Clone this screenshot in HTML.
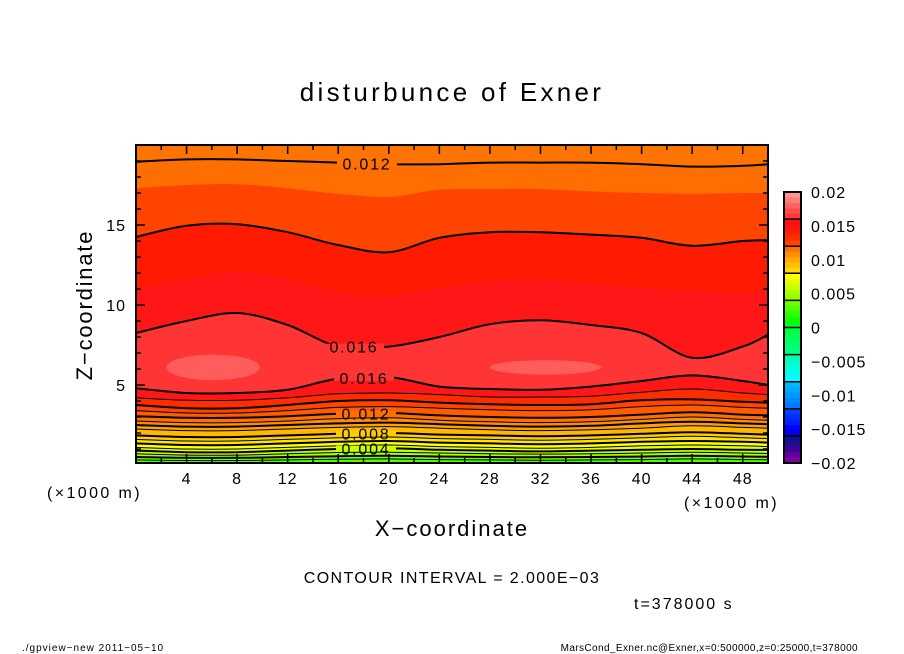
<!DOCTYPE html>
<html><head><meta charset="utf-8">
<style>
html,body{margin:0;padding:0;background:#fff;}
svg{display:block;font-family:"Liberation Sans",sans-serif;}
</style></head>
<body>
<svg id="chart" width="904" height="654" viewBox="0 0 904 654">
<defs><clipPath id="plotclip"><rect x="136" y="145" width="632" height="318"/></clipPath></defs>
<text x="452" y="101" text-anchor="middle" font-size="26" letter-spacing="3.3">disturbunce of Exner</text>
<g id="plot" clip-path="url(#plotclip)"></g>
<g id="lines" clip-path="url(#plotclip)"></g>
<g id="labels"></g>
<rect x="136" y="145" width="632" height="318" fill="none" stroke="#000" stroke-width="2"/>
<g id="axes"></g>
<text x="0" y="0" transform="translate(92,305) rotate(-90)" text-anchor="middle" font-size="22" letter-spacing="1.8">Z−coordinate</text>
<text x="452" y="536" text-anchor="middle" font-size="22" letter-spacing="2">X−coordinate</text>
<text x="47" y="498" font-size="16" letter-spacing="2.4">(×1000 m)</text>
<text x="684" y="508" font-size="16" letter-spacing="2.4">(×1000 m)</text>
<text x="452" y="583" text-anchor="middle" font-size="16" letter-spacing="1.4">CONTOUR INTERVAL = 2.000E−03</text>
<text x="634" y="609" font-size="16" letter-spacing="2">t=378000 s</text>
<text x="22" y="651" font-size="10" letter-spacing="1">./gpview−new   2011−05−10</text>
<text x="858" y="651" text-anchor="end" font-size="10" letter-spacing="0.4">MarsCond_Exner.nc@Exner,x=0:500000,z=0:25000,t=378000</text>
<g id="cbar"></g>
</svg>
<script>
// x samples (km)
const xs = [0,4,8,12,16,20,24,28,32,36,40,44,48,50];
// upper isolines (z in km), value decreasing upward
const upLevels = [0.016,0.015,0.014,0.013,0.012];
const up016 = [8.25,9.0,9.5,8.75,7.4,7.4,8.0,8.8,9.05,8.75,8.25,6.7,7.4,8.15];
const up015 = [11.0,11.7,12.1,11.6,10.8,10.6,11.1,11.5,11.6,11.4,11.1,10.9,10.8,10.8];
const up014 = [14.25,14.95,15.05,14.55,13.75,13.3,14.2,14.55,14.55,14.4,14.2,13.7,14.0,14.05];
const up013 = [17.3,17.5,17.55,17.3,16.95,16.75,17.2,17.25,17.25,17.1,17.0,16.95,17.0,17.0];
const up012 = [18.95,19.1,19.1,19.0,18.9,18.8,18.8,18.9,18.9,18.9,18.8,18.65,18.7,18.8];
const upLines = [up016,up015,up014,up013,up012];
// lower isolines, value increasing upward
const loLevels = [0.016,0.015,0.014,0.013,0.012,0.011,0.010,0.009,0.008,0.007,0.006,0.005,0.004,0.003,0.002,0.001];
const lo016 = [4.8,4.5,4.5,4.7,5.4,5.5,4.9,4.75,4.7,4.9,5.25,5.6,5.25,5.0];
const lo015 = [4.2,4.05,4.05,4.2,4.45,4.5,4.4,4.25,4.25,4.3,4.55,4.75,4.5,4.4];
const lo014 = [3.75,3.55,3.55,3.75,4.0,4.05,3.9,3.8,3.75,3.8,4.05,4.1,3.95,3.9];
const lo013 = [3.4,3.25,3.25,3.4,3.6,3.65,3.55,3.45,3.4,3.45,3.65,3.75,3.6,3.55];
const lo012 = [3.05,2.95,2.95,3.05,3.2,3.25,3.1,3.0,2.95,3.0,3.15,3.3,3.15,3.1];
const lo011 = [2.75,2.65,2.65,2.75,2.9,2.95,2.8,2.7,2.65,2.7,2.85,3.0,2.85,2.8];
const lo010 = [2.5,2.4,2.4,2.5,2.6,2.65,2.55,2.45,2.4,2.45,2.6,2.7,2.6,2.55];
const lo009 = [2.25,2.15,2.15,2.25,2.35,2.4,2.3,2.2,2.15,2.2,2.3,2.45,2.35,2.3];
const lo008 = [1.85,1.75,1.75,1.85,1.95,2.0,1.9,1.85,1.8,1.85,1.95,2.05,1.95,1.9];
const lo007 = [1.6,1.5,1.5,1.6,1.7,1.75,1.65,1.6,1.55,1.6,1.7,1.8,1.7,1.65];
const lo006 = [1.35,1.25,1.25,1.35,1.45,1.5,1.4,1.35,1.3,1.35,1.45,1.5,1.45,1.4];
const lo005 = [1.1,1.0,1.0,1.1,1.2,1.25,1.15,1.1,1.05,1.1,1.2,1.25,1.2,1.15];
const lo004 = [0.9,0.8,0.8,0.9,1.0,1.05,0.95,0.9,0.85,0.9,0.95,1.0,0.95,0.95];
const lo003 = [0.7,0.62,0.62,0.7,0.78,0.8,0.75,0.7,0.68,0.7,0.75,0.8,0.75,0.72];
const lo002 = [0.5,0.45,0.45,0.5,0.55,0.58,0.53,0.5,0.48,0.5,0.53,0.58,0.53,0.52];
const lo001 = [0.32,0.28,0.28,0.32,0.36,0.38,0.34,0.32,0.3,0.32,0.34,0.38,0.34,0.33];
const loLines = [lo016,lo015,lo014,lo013,lo012,lo011,lo010,lo009,lo008,lo007,lo006,lo005,lo004,lo003,lo002,lo001];
// 0.017 islands: x-center, z-center, half-width (km), half-height (km)
const islandX = [6.1,32.4];
const islandZ = [6.1,6.1];
const islandW = [3.7,4.4];
const islandH = [0.8,0.45];
const xTicks = [4,8,12,16,20,24,28,32,36,40,44,48];
const zTicks = [5,10,15];
const cbarLabels = ["0.02","0.015","0.01","0.005","0","−0.005","−0.01","−0.015","−0.02"];

const upColors = {0.016:"#ff1717",0.015:"#ff1a00",0.014:"#ff4400",0.013:"#ff6e00",0.012:"#ff7400"};
const loColors = {0.016:"#ff1717",0.015:"#ff2c00",0.014:"#ff4400",0.013:"#ff5c00",0.012:"#ff7000",0.011:"#ff8c00",0.010:"#ffa000",0.009:"#ffb800",0.008:"#ffcc00",0.007:"#ffe400",0.006:"#ffff00",0.005:"#e4ff00",0.004:"#c8ff00",0.003:"#aaff00",0.002:"#80ff00",0.001:"#4cff00"};
const cbarColors = ["#ff9494","#ff7c7c","#ff6464","#ff4c4c","#ff3838",
"#ff1010","#ff1414","#ff2000","#ff3000","#ff4400",
"#ff7000","#ff9000","#ffa800","#ffc000","#ffd800",
"#ffff00","#e4ff00","#ccff00","#b0ff00","#94ff00",
"#70ff00","#50ff00","#30ff00","#10ff00","#00ff10",
"#00ff40","#00ff50","#00ff60","#00ff70","#00ff80",
"#00ffb0","#00ffc8","#00ffe0","#00fff0","#00ffff",
"#00b8ff","#00a8ff","#0098ff","#0088ff","#0078ff",
"#0040ff","#0030ff","#0020ff","#0000ff","#0000e8",
"#101090","#201090","#400090","#6000a0","#8000a0"];

const NS="http://www.w3.org/2000/svg";
const X0=136,X1=768,Y0=465,PZ=16;
const sx = x => X0 + (X1-X0)*x/50;
const sz = z => Y0 - PZ*z;

function curve(arr){
  const p = xs.map((x,i)=>[sx(x),sz(arr[i])]);
  let d = "M"+p[0][0]+","+p[0][1];
  for(let i=0;i<p.length-1;i++){
    const a=p[Math.max(0,i-1)],b=p[i],c=p[i+1],e=p[Math.min(p.length-1,i+2)];
    const c1=[b[0]+(c[0]-a[0])/6,b[1]+(c[1]-a[1])/6];
    const c2=[c[0]-(e[0]-b[0])/6,c[1]-(e[1]-b[1])/6];
    d+=" C"+c1[0].toFixed(1)+","+c1[1].toFixed(1)+" "+c2[0].toFixed(1)+","+c2[1].toFixed(1)+" "+c[0].toFixed(1)+","+c[1].toFixed(1);
  }
  return d;
}
const plot=document.getElementById('plot');
const lines=document.getElementById('lines');
function mk(tag,attrs,parent){const e=document.createElementNS(NS,tag);for(const k in attrs)e.setAttribute(k,attrs[k]);parent.appendChild(e);return e;}

let bg=mk('rect',{x:130,y:140,width:650,height:330,fill:"#ff3535"},plot);


upLevels.forEach((lv,i)=>{
  const d=curve(upLines[i])+" L"+(X1+10)+","+sz(upLines[i][xs.length-1])+" L"+(X1+10)+",130 L"+(X0-10)+",130 L"+(X0-10)+","+sz(upLines[i][0])+" Z";
  const p=mk('path',{d:d,fill:upColors[lv]},plot);
  
  
});
loLevels.forEach((lv,i)=>{
  const d=curve(loLines[i])+" L"+(X1+10)+","+sz(loLines[i][xs.length-1])+" L"+(X1+10)+",480 L"+(X0-10)+",480 L"+(X0-10)+","+sz(loLines[i][0])+" Z";
  const p=mk('path',{d:d,fill:loColors[lv]},plot);
  
  
});
islandX.forEach((x,i)=>{
  const e=mk('ellipse',{cx:sx(x),cy:sz(islandZ[i]),rx:(X1-X0)*islandW[i]/50,ry:PZ*islandH[i],fill:"#ff5c5c"},plot);
  
  
});
function isEven(lv){return Math.round(lv*1000)%2===0;}
upLevels.forEach((lv,i)=>{ if(isEven(lv)){
  const p=mk('path',{d:curve(upLines[i]),fill:"none",stroke:"#000","stroke-width":2},lines);
  
  
}});
loLevels.forEach((lv,i)=>{
  const p=mk('path',{d:curve(loLines[i]),fill:"none",stroke:"#000","stroke-width":isEven(lv)?2:1},lines);
  
  
});
// contour labels
const labs=[["0.012",367,up012,"#ff7400"],["0.016",354,up016,"#ff3535"],["0.016",364,lo016,"#ff3535"],["0.012",366,lo012,"#ff7000"],["0.008",366,lo008,"#ffcc00"],["0.004",366,lo004,"#c8ff00"]];
const lg=document.getElementById('labels');
labs.forEach(l=>{
  const km=(l[1]-X0)/(X1-X0)*50;
  let j=0;while(j<xs.length-2&&xs[j+1]<km)j++;
  const t=(km-xs[j])/(xs[j+1]-xs[j]);
  const y=sz(l[2][j]+(l[2][j+1]-l[2][j])*t);
  const r=mk('rect',{x:l[1]-30,y:y-3,width:60,height:6,fill:l[3]},lg);
  
  
  const tx=mk('text',{x:l[1],y:y+6,"text-anchor":"middle","font-size":16,"letter-spacing":1.8},lg);
  tx.textContent=l[0];
  
  
});
// axes ticks
const ax=document.getElementById('axes');
for(let k=2;k<50;k+=2){
  const x=sx(k);const major=k%4===0;const L=major?9:5;
  mk('line',{x1:x,y1:463,x2:x,y2:463-L,stroke:"#000","stroke-width":1.5},ax);
  mk('line',{x1:x,y1:145,x2:x,y2:145+L,stroke:"#000","stroke-width":1.5},ax);
}
for(let k=1;k<20;k++){
  const y=sz(k);const major=k%5===0;const L=major?9:5;
  mk('line',{x1:136,y1:y,x2:136+L,y2:y,stroke:"#000","stroke-width":1.5},ax);
  mk('line',{x1:768,y1:y,x2:768-L,y2:y,stroke:"#000","stroke-width":1.5},ax);
}
xTicks.forEach(v=>{
  const t=mk('text',{x:sx(v),y:484,"text-anchor":"middle","font-size":16,"letter-spacing":1},ax);
  t.textContent=v;
  
  
});
zTicks.forEach(v=>{
  const t=mk('text',{x:126,y:sz(v)+6,"text-anchor":"end","font-size":16,"letter-spacing":1},ax);
  t.textContent=v;
  
  
});
// colorbar
const cb=document.getElementById('cbar');
const CT=192,CB=463,CX=784,CW=17;const nb=cbarColors.length;const bh=(CB-CT)/nb;
for(let i=0;i<nb;i++){
  const r=mk('rect',{x:CX,y:CT+i*bh,width:CW,height:bh+0.5,fill:cbarColors[i]},cb);
  
  
}
for(let g=1;g<nb/5;g++) mk('line',{x1:CX,y1:CT+g*5*bh,x2:CX+CW,y2:CT+g*5*bh,stroke:"#000","stroke-width":1.5},cb);
mk('rect',{x:CX,y:CT,width:CW,height:CB-CT,fill:"none",stroke:"#000","stroke-width":2},cb);
const lstep=(CB-CT)/(cbarLabels.length-1);
cbarLabels.forEach((s,i)=>{
  const t=mk('text',{x:811,y:CT+i*lstep+6,"font-size":16,"letter-spacing":1},cb);
  t.textContent=s;
  
  
});
</script>
</body></html>
